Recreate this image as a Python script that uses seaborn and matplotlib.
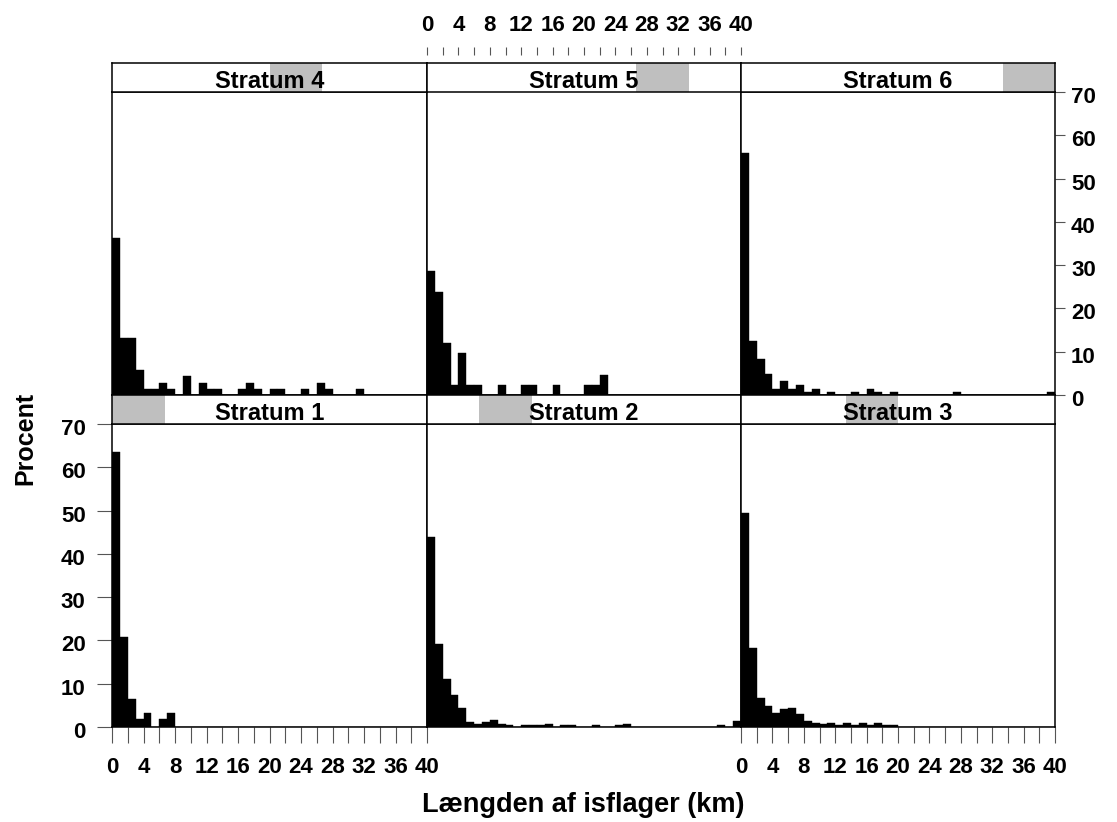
import numpy as np
import pandas as pd
import matplotlib
matplotlib.use("Agg")
import matplotlib.pyplot as plt
import matplotlib.transforms as mtransforms
import seaborn as sns

# andel (%) af isflager pr. 1 km laengdeklasse, 0-40 km
length_mid = np.arange(0.5, 40, 1.0)

strata = ["Stratum 1", "Stratum 2", "Stratum 3", "Stratum 4", "Stratum 5", "Stratum 6"]

stratum_1 = [63.6, 20.7, 6.5, 1.8, 3.3, 0, 1.8, 3.3, 0, 0,
             0, 0, 0, 0, 0, 0, 0, 0, 0, 0,
             0, 0, 0, 0, 0, 0, 0, 0, 0, 0,
             0, 0, 0, 0, 0, 0, 0, 0, 0, 0]
stratum_2 = [43.8, 19.2, 11.2, 7.4, 4.5, 1.2, 0.8, 1.2, 1.6, 0.8,
             0.4, 0, 0.4, 0.4, 0.4, 0.8, 0, 0.4, 0.4, 0,
             0, 0.4, 0, 0, 0.4, 0.8, 0, 0, 0, 0,
             0, 0, 0, 0, 0, 0, 0, 0.4, 0, 1.3]
stratum_3 = [49.4, 18.2, 6.8, 4.9, 3.2, 4.2, 4.5, 2.9, 1.3, 0.9,
             0.8, 0.9, 0.5, 0.9, 0.5, 0.9, 0.5, 0.9, 0.5, 0.4,
             0, 0, 0, 0, 0, 0, 0, 0, 0, 0,
             0, 0, 0, 0, 0, 0, 0, 0, 0, 0]
stratum_4 = [36.3, 13.1, 13.1, 5.8, 1.4, 1.4, 2.8, 1.4, 0, 4.4,
             0, 2.8, 1.4, 1.4, 0, 0, 1.4, 2.8, 1.4, 0,
             1.4, 1.4, 0, 0, 1.4, 0, 2.8, 1.4, 0, 0,
             0, 1.4, 0, 0, 0, 0, 0, 0, 0, 0]
stratum_5 = [28.6, 23.8, 11.9, 2.3, 9.6, 2.3, 2.3, 0, 0, 2.3,
             0, 0, 2.3, 2.3, 0, 0, 2.3, 0, 0, 0,
             2.3, 2.3, 4.6, 0, 0, 0, 0, 0, 0, 0,
             0, 0, 0, 0, 0, 0, 0, 0, 0, 0]
stratum_6 = [55.9, 12.5, 8.3, 4.8, 1.4, 3.2, 1.4, 2.4, 0.6, 1.4,
             0, 0.6, 0, 0, 0.6, 0, 1.5, 0.6, 0, 0.6,
             0, 0, 0, 0, 0, 0, 0, 0.6, 0, 0,
             0, 0, 0, 0, 0, 0, 0, 0, 0, 0.6]

values = [stratum_1, stratum_2, stratum_3, stratum_4, stratum_5, stratum_6]
df = pd.concat([pd.DataFrame({"stratum": s, "length": length_mid, "percent": v})
                for s, v in zip(strata, values)], ignore_index=True)

y_ticks = np.arange(0, 71, 10)
x_ticks = np.arange(0, 41, 2)
x_labels = [str(v) if v % 4 == 0 else "" for v in x_ticks]

sns.set_style("white")
plt.rcParams["font.family"] = ["Liberation Sans", "DejaVu Sans"]
plt.rcParams["font.weight"] = "bold"
plt.rcParams["text.color"] = "black"
plt.rcParams["xtick.labelcolor"] = "black"
plt.rcParams["ytick.labelcolor"] = "black"

W, H = 1117, 822
fig = plt.figure(figsize=(W / 100, H / 100), dpi=100)

col_x = [112, 427, 741, 1055]
row_y = {0: 92, 1: 424}   # top of panel in pixels
panel_h = 303
strip_h = 29
# stratum -> (row, col)
layout = {"Stratum 4": (0, 0), "Stratum 5": (0, 1), "Stratum 6": (0, 2),
          "Stratum 1": (1, 0), "Stratum 2": (1, 1), "Stratum 3": (1, 2)}

TICK_FS = 16
TICK_COL = "#555555"
shift_down = mtransforms.ScaledTranslation(0, -3 / 100, fig.dpi_scale_trans)

for i, s in enumerate(strata):
    r, c = layout[s]
    x0, x1 = col_x[c], col_x[c + 1]
    ytop = row_y[r]
    ax = fig.add_axes([x0 / W, 1 - (ytop + panel_h) / H, (x1 - x0) / W, panel_h / H])
    sub = df[df["stratum"] == s]
    sns.histplot(data=sub, x="length", weights="percent", binwidth=1, binrange=(0, 40),
                 ax=ax, color="black", alpha=1, edgecolor="black", linewidth=0.3)
    ax.set_xlim(0, 40)
    ax.set_ylim(0, 70)
    ax.set_xlabel("")
    ax.set_ylabel("")
    for sp in ax.spines.values():
        sp.set_color("black")
        sp.set_linewidth(1.1)
    ax.set_xticks([])
    ax.set_yticks([])

    if r == 1 and c in (0, 2):
        ax.set_xticks(x_ticks)
        ax.set_xticklabels(x_labels)
        ax.tick_params(axis="x", bottom=True, direction="out", length=11.5,
                       width=0.8, color=TICK_COL, pad=10, labelsize=TICK_FS)
    if r == 1 and c == 0:
        ax.set_yticks(y_ticks)
        ax.set_yticklabels([str(v) for v in y_ticks])
        ax.tick_params(axis="y", left=True, direction="out", length=11,
                       width=0.8, color=TICK_COL, pad=8, labelsize=TICK_FS)
        for lbl in ax.get_yticklabels():
            lbl.set_transform(lbl.get_transform() + shift_down)
    if r == 0 and c == 1:
        ax.set_xticks(x_ticks)
        ax.set_xticklabels(x_labels)
        ax.xaxis.tick_top()
        ax.spines["top"].set_position(("outward", 26.6))
        ax.spines["top"].set_visible(False)
        ax.tick_params(axis="x", top=True, bottom=False, labeltop=True, labelbottom=False,
                       direction="out", length=5.5, width=0.8, color=TICK_COL, pad=8,
                       labelsize=TICK_FS)
    if r == 0 and c == 2:
        ax.set_yticks(y_ticks)
        ax.set_yticklabels([str(v) for v in y_ticks])
        ax.yaxis.tick_right()
        ax.tick_params(axis="y", right=True, left=False, direction="out", length=7.5,
                       width=0.8, color=TICK_COL, pad=4, labelsize=TICK_FS)
        for t in ax.yaxis.get_major_ticks():
            t.label2.set_transform(t.label2.get_transform() + shift_down)

    # strip with shaded level indicator
    st = fig.add_axes([x0 / W, 1 - ytop / H, (x1 - x0) / W, strip_h / H])
    st.set_xlim(0, len(strata))
    st.set_ylim(0, 1)
    st.axvspan(i, i + 1, color="#bfbfbf", lw=0)
    st.text(len(strata) / 2, 0.13, s, ha="center", va="baseline",
            fontsize=17, fontweight="bold")
    st.set_xticks([])
    st.set_yticks([])
    for sp in st.spines.values():
        sp.set_color("black")
        sp.set_linewidth(1.1)
    st.set_zorder(3)

fig.text(25 / W, 1 - 438 / H, "Procent", rotation=90, ha="center", va="center",
         fontsize=18, fontweight="bold")
fig.text(583 / W, 1 - 812 / H, "Længden af isflager (km)", ha="center", va="baseline",
         fontsize=19.5, fontweight="bold")

fig.savefig("out.png", dpi=100, facecolor="white")
